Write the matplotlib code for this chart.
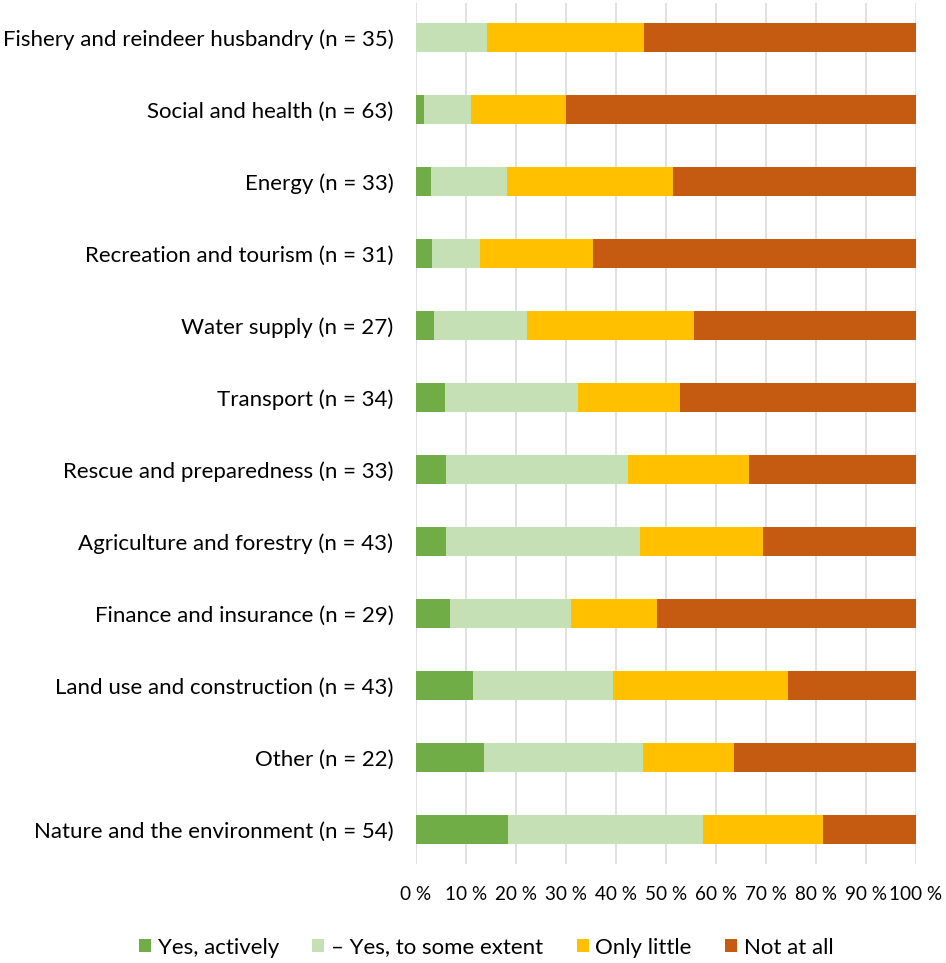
import matplotlib.pyplot as plt
import numpy as np

plt.rcParams['font.family'] = ['Lato', 'DejaVu Sans']

# Sectors, top to bottom
sectors = [
    'Fishery and reindeer husbandry (n = 35)',
    'Social and health (n = 63)',
    'Energy (n = 33)',
    'Recreation and tourism (n = 31)',
    'Water supply (n = 27)',
    'Transport (n = 34)',
    'Rescue and preparedness (n = 33)',
    'Agriculture and forestry (n = 43)',
    'Finance and insurance (n = 29)',
    'Land use and construction (n = 43)',
    'Other (n = 22)',
    'Nature and the environment (n = 54)',
]

# Share of answers in each sector, %
yes_actively = [0.0, 1.6, 3.0, 3.2, 3.7, 5.9, 6.1, 6.1, 6.9, 11.5, 13.6, 18.5]
yes_some = [14.3, 9.5, 15.2, 9.7, 18.5, 26.5, 36.4, 38.8, 24.2, 28.0, 31.8, 39.0]
only_little = [31.4, 19.0, 33.3, 22.6, 33.4, 20.5, 24.2, 24.5, 17.2, 34.9, 18.3, 24.0]
not_at_all = [54.3, 69.9, 48.5, 64.5, 44.4, 47.1, 33.3, 30.6, 51.7, 25.6, 36.3, 18.5]

series = [
    ('Yes, actively', yes_actively, '#70AD47'),
    ('– Yes, to some extent', yes_some, '#C5E0B4'),
    ('Only little', only_little, '#FFC000'),
    ('Not at all', not_at_all, '#C55A11'),
]

fig = plt.figure(figsize=(9.46, 9.63), dpi=100)
ax = fig.add_axes([0.4394, 0.1028, 0.5286, 0.8941])

y = np.arange(len(sectors))
left = np.zeros(len(sectors))
for label, vals, color in series:
    vals = np.array(vals)
    ax.barh(y, vals, left=left, height=0.4, color=color, label=label, zorder=2)
    left += vals

ax.set_ylim(len(sectors) - 1 + 0.48, -0.48)
ax.set_xlim(0, 100)
ax.set_xticks(np.arange(0, 101, 10))
ax.set_xticklabels([f'{v} %' for v in range(0, 101, 10)])
ax.set_yticks(y)
ax.set_yticklabels(sectors)

ax.grid(axis='x', color='#D9D9D9', linewidth=1.1, zorder=0)
for s in ax.spines.values():
    s.set_visible(False)
ax.tick_params(axis='both', length=0, colors='#000000')
ax.tick_params(axis='y', pad=16, labelsize=16)
ax.tick_params(axis='x', pad=16, labelsize=13.6)

fig.legend(loc='center', bbox_to_anchor=(0.514, 0.016), ncol=4, frameon=False,
           fontsize=16, handlelength=0.55, handleheight=0.55, handletextpad=0.3,
           columnspacing=1.5)

fig.savefig('out.png', dpi=100)
